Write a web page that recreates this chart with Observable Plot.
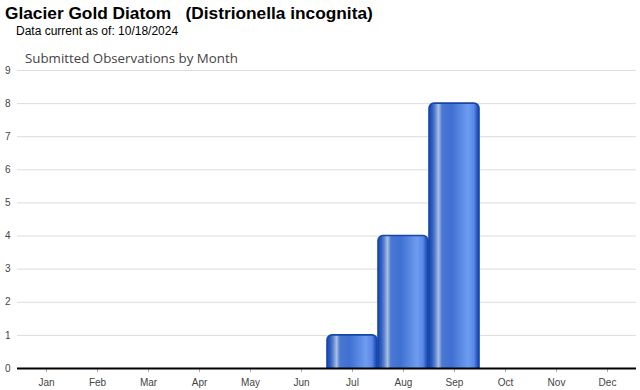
<!DOCTYPE html>
<html><head><meta charset="utf-8">
<script src="https://cdn.jsdelivr.net/npm/d3@7"></script>
<script src="https://cdn.jsdelivr.net/npm/@observablehq/plot@0.6"></script>
<style>
body{margin:0;background:#fff;font-family:Arial,"Liberation Sans",sans-serif;}
#wrap{position:relative;width:640px;height:390px;overflow:hidden;}
#t1{position:absolute;left:5px;top:3px;font-size:17.3px;font-weight:bold;color:#000;white-space:pre;}
#t2{position:absolute;left:16px;top:24px;font-size:12px;color:#000;}
#t3{position:absolute;left:25px;top:49px;font-size:13.3px;color:#444;font-family:"Open Sans",sans-serif;z-index:2;}
#chart{position:absolute;left:0;top:40px;}
</style></head>
<body><div id="wrap">
<div id="t1">Glacier Gold Diatom   (Distrionella incognita)</div>
<div id="t2">Data current as of: 10/18/2024</div>
<div id="t3">Submitted Observations by Month</div>
<div id="chart"></div>
</div>
<script>
const months = ["Jan","Feb","Mar","Apr","May","Jun","Jul","Aug","Sep","Oct","Nov","Dec"];
const counts = [0,0,0,0,0,0,1,4,8,0,0,0];
const yTicks = [0,1,2,3,4,5,6,7,8,9];

const data = months.map((m,i)=>({month:m,count:counts[i]}));
const ns = "http://www.w3.org/2000/svg";
function defsMark(){
  const defs = document.createElementNS(ns,"defs");
  const g = document.createElementNS(ns,"linearGradient");
  g.setAttribute("id","barGrad");
  g.setAttribute("x1","0");g.setAttribute("x2","1");g.setAttribute("y1","0");g.setAttribute("y2","0");
  const stops=[[0,"#1a47ad"],[0.06,"#2b5cc2"],[0.12,"#5a82cc"],[0.19,"#a9bee2"],[0.26,"#4a78d2"],[0.45,"#3f70d2"],[0.78,"#6e9cf0"],[0.9,"#5a88e6"],[0.96,"#2a5ac4"],[1,"#1744a8"]];
  for(const [o,c] of stops){const s=document.createElementNS(ns,"stop");s.setAttribute("offset",o);s.setAttribute("stop-color",c);g.appendChild(s);}
  defs.appendChild(g);
  return defs;
}
const chart = Plot.plot({
  width:640,height:350,
  marginTop:30,marginBottom:22,marginLeft:17,marginRight:4,
  style:{fontFamily:"Arial, 'Liberation Sans', sans-serif",fontSize:"10px",color:"#444",background:"transparent"},
  x:{domain:months,padding:0.01,label:null,tickSize:4,tickPadding:6},
  y:{domain:[0,9],label:null,ticks:yTicks,tickSize:0,tickPadding:4},
  marks:[
    defsMark,
    Plot.gridY(yTicks.filter(d=>d>0),{stroke:"#dcdcdc",strokeOpacity:1}),
    Plot.axisX({tickSize:4,tickPadding:6,stroke:"#aaa",fill:"#444"}),
    Plot.axisY({ticks:yTicks,tickSize:0,tickPadding:7,fill:"#444"}),
    Plot.barY(data.filter(d=>d.count>0),{x:"month",y:"count",fill:"url(#barGrad)",stroke:"#1646a8",strokeWidth:1.6,rx:5,insetBottom:-8,clip:true}),
    Plot.ruleY([0],{stroke:"#000",strokeWidth:2})
  ]
});
document.getElementById("chart").appendChild(chart);
</script></body></html>
